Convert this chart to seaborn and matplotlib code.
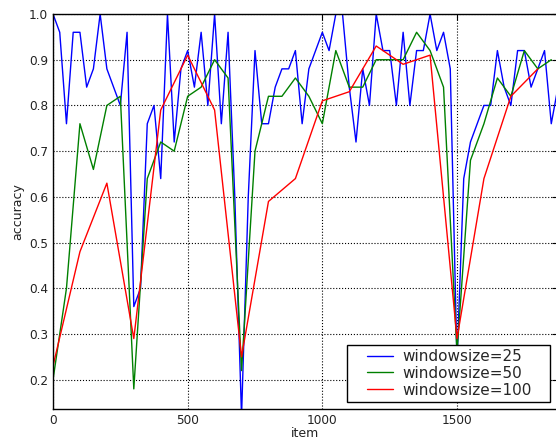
import numpy as np
import pandas as pd
import matplotlib
matplotlib.use("Agg")
import matplotlib.pyplot as plt
import seaborn as sns

# Sliding-window accuracy, sampled at the end of every window
items_25 = np.arange(0, 1876, 25)
acc_25 = [1.00, 0.96, 0.76, 0.96, 0.96, 0.84, 0.88, 1.00, 0.88, 0.84,
          0.80, 0.96, 0.36, 0.40, 0.76, 0.80, 0.64, 1.00, 0.72, 0.88,
          0.92, 0.84, 0.96, 0.80, 1.00, 0.76, 0.96, 0.60, 0.12, 0.60,
          0.92, 0.76, 0.76, 0.84, 0.88, 0.88, 0.92, 0.76, 0.88, 0.92,
          0.96, 0.92, 1.00, 1.00, 0.84, 0.72, 0.88, 0.80, 1.00, 0.92,
          0.92, 0.80, 0.96, 0.80, 0.92, 0.92, 1.00, 0.92, 0.96, 0.88,
          0.24, 0.64, 0.72, 0.76, 0.80, 0.80, 0.92, 0.84, 0.80, 0.92,
          0.92, 0.84, 0.88, 0.92, 0.76, 0.84]

items_50 = np.arange(0, 1851, 50)
acc_50 = [0.20, 0.40, 0.76, 0.66, 0.80, 0.82, 0.18, 0.64, 0.72, 0.70,
          0.82, 0.84, 0.90, 0.86, 0.22, 0.70, 0.82, 0.82, 0.86, 0.82,
          0.76, 0.92, 0.84, 0.84, 0.90, 0.90, 0.90, 0.96, 0.92, 0.84,
          0.26, 0.68, 0.76, 0.86, 0.82, 0.92, 0.88, 0.90]

items_100 = np.arange(0, 1801, 100)
acc_100 = [0.23, 0.48, 0.63, 0.29, 0.79, 0.91, 0.79, 0.25, 0.59, 0.64,
           0.81, 0.83, 0.93, 0.89, 0.91, 0.29, 0.64, 0.82, 0.88]

series_names = ["windowsize=25", "windowsize=50", "windowsize=100"]
series_colors = ["#0000ff", "#008000", "#ff0000"]

df = pd.concat([
    pd.DataFrame({"item": items_25, "accuracy": acc_25, "series": series_names[0]}),
    pd.DataFrame({"item": items_50, "accuracy": acc_50, "series": series_names[1]}),
    pd.DataFrame({"item": items_100, "accuracy": acc_100, "series": series_names[2]}),
], ignore_index=True)

sns.set_style("white")
plt.rcParams["font.family"] = ["DejaVu Sans"]

W, H = 556, 440
fig = plt.figure(figsize=(W / 100, H / 100), dpi=100)
# axes box in pixels: left 53, top 14, bottom 409; right edge runs just past the canvas
ax_left, ax_top, ax_bottom, ax_width = 53, 14, 409, 505
ax = fig.add_axes([ax_left / W, (H - ax_bottom) / H, ax_width / W,
                   (ax_bottom - ax_top) / H])

sns.lineplot(data=df, x="item", y="accuracy", hue="series",
             palette=dict(zip(series_names, series_colors)),
             hue_order=series_names, estimator=None, sort=False,
             linewidth=1.0, ax=ax)

ax.set_xlim(0, 1875)
ax.set_ylim(0.136, 1.0)
ax.set_xticks([0, 500, 1000, 1500])
ax.set_yticks([0.2, 0.3, 0.4, 0.5, 0.6, 0.7, 0.8, 0.9, 1.0])
ax.set_yticklabels([f"{v:.1f}" for v in ax.get_yticks()])

ax.grid(True, color="black", linestyle=":", linewidth=0.8)
ax.tick_params(axis="both", direction="in", length=4, labelsize=8.7,
               top=True, right=True, color="black", labelcolor="#222222",
               pad=3.6)
for side, spine in ax.spines.items():
    spine.set_color("black")
    spine.set_linewidth(1.0)
ax.spines["right"].set_visible(False)

ax.set_xlabel("item", fontsize=9, labelpad=0, color="#222222")
ax.set_ylabel("accuracy", fontsize=9, labelpad=3, color="#222222")

# legend box in pixels: x 347..550, y 343..402
lg_x0, lg_x1, lg_y0, lg_y1 = 346.7, 550.3, 343.3, 401.7
ph = ax_bottom - ax_top
bbox = ((lg_x0 - ax_left) / ax_width, (ax_bottom - lg_y1) / ph,
        (lg_x1 - lg_x0) / ax_width, (lg_y1 - lg_y0) / ph)
handles, labels = ax.get_legend_handles_labels()
leg = ax.legend(handles, labels, loc="lower left", bbox_to_anchor=bbox,
                mode="expand", borderaxespad=0, fontsize=11,
                fancybox=False, framealpha=1.0, edgecolor="black",
                handlelength=2.78, handletextpad=0.62, labelspacing=0.12,
                borderpad=0.27)
leg.get_frame().set_linewidth(1.0)
# short sample lines sitting right next to the labels
for line in leg.get_lines():
    xd = np.asarray(line.get_xdata(), dtype=float)
    start = xd[0] + (xd[-1] - xd[0]) * 0.373
    line.set_xdata(np.linspace(start, xd[-1], len(xd)))

fig.savefig("out.png", dpi=100)
